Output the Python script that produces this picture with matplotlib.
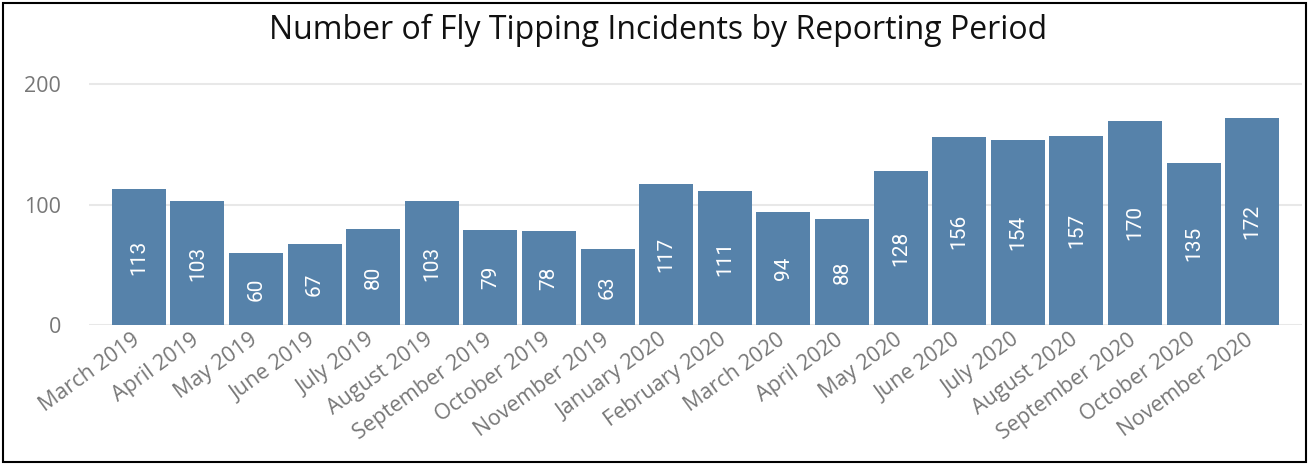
import matplotlib
matplotlib.use("Agg")
import matplotlib.pyplot as plt
from matplotlib.patches import Rectangle
from matplotlib.transforms import ScaledTranslation

months = ["March 2019", "April 2019", "May 2019", "June 2019", "July 2019",
          "August 2019", "September 2019", "October 2019", "November 2019",
          "January 2020", "February 2020", "March 2020", "April 2020",
          "May 2020", "June 2020", "July 2020", "August 2020",
          "September 2020", "October 2020", "November 2020"]
incidents = [113, 103, 60, 67, 80, 103, 79, 78, 63, 117, 111, 94, 88,
             128, 156, 154, 157, 170, 135, 172]
yticks = [0, 100, 200]

W, H = 1309, 465
fig = plt.figure(figsize=(W / 100, H / 100), dpi=100)
ax = fig.add_axes([89 / W, 1 - 325 / H, (1302 - 89) / W, (325 - 70) / H])

bar_color = "#5682AA"
x = list(range(len(months)))
bars = ax.bar(x, incidents, width=0.92, color=bar_color, zorder=3)
for xi, v in zip(x, incidents):
    ax.text(xi, v / 2, str(v), rotation=90, ha="center", va="center",
            color="white", fontsize=15, family=["Roboto", "DejaVu Sans"],
            zorder=4)

ax.set_xlim(-0.85, len(months) - 1 + 0.85)
ax.set_ylim(0, 212)
ax.set_yticks(yticks)
ax.set_yticklabels([str(t) for t in yticks], color="#777777", fontsize=15.5,
                   family=["Open Sans", "DejaVu Sans"])
ax.yaxis.grid(True, color="#E8E8E8", linewidth=1.5, zorder=0)
ax.set_axisbelow(True)
ax.tick_params(axis="y", length=0, pad=20)
ax.tick_params(axis="x", length=0, pad=3)
ax.set_xticks(x)
ax.set_xticklabels(months, rotation=36, ha="right", rotation_mode="anchor",
                   color="#777777", fontsize=15.5,
                   family=["Open Sans", "DejaVu Sans"])
offset = ScaledTranslation(-7 / 100, 0, fig.dpi_scale_trans)
for lbl in ax.get_xticklabels():
    lbl.set_transform(lbl.get_transform() + offset)
for s in ax.spines.values():
    s.set_visible(False)

fig.text(0.503, 1 - 30 / H, "Number of Fly Tipping Incidents by Reporting Period",
         ha="center", va="center", fontsize=23, color="#111111",
         family=["Open Sans", "DejaVu Sans"])

fig.patches.append(Rectangle((3 / W, 3 / H), 1 - 6 / W, 1 - 6 / H,
                             transform=fig.transFigure, fill=False,
                             edgecolor="black", linewidth=1.5))

fig.savefig("out.png", dpi=100)
